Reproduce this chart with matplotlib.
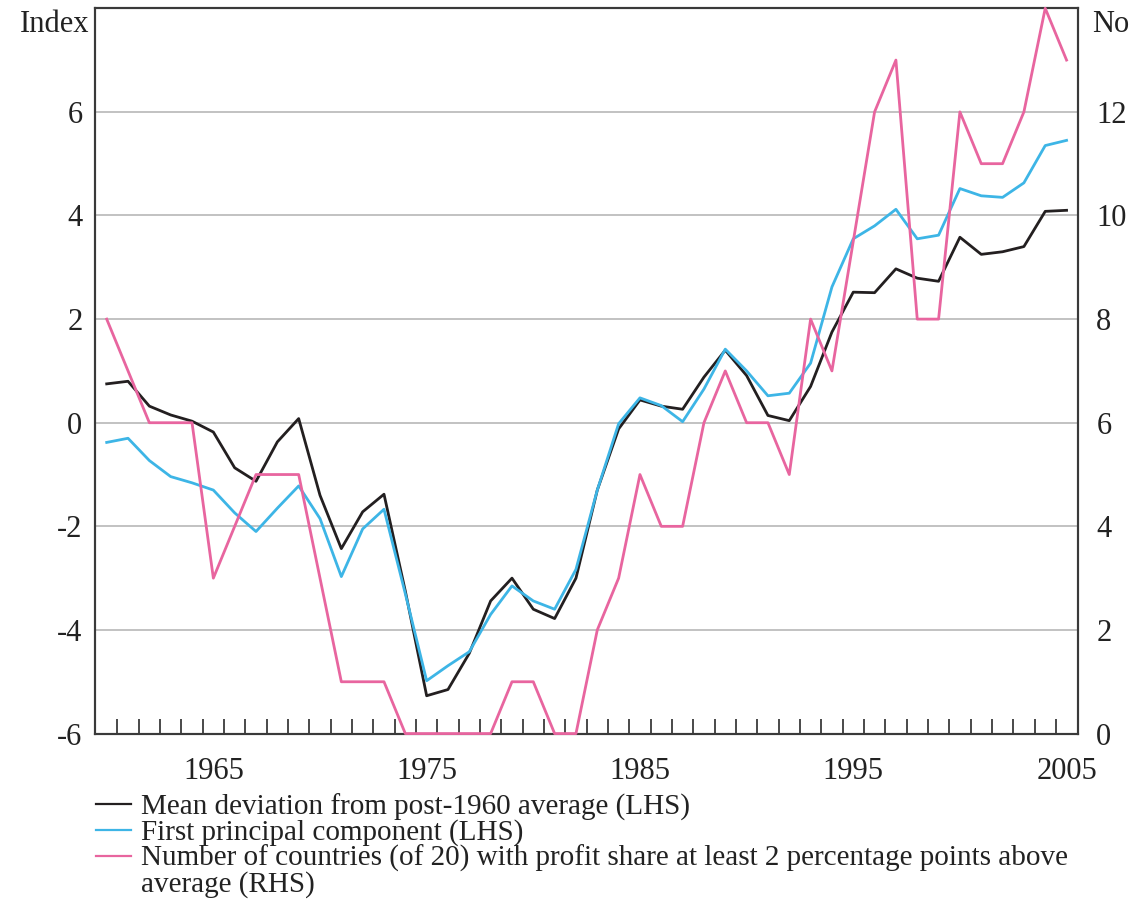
import matplotlib
matplotlib.use("Agg")
import matplotlib.pyplot as plt
from matplotlib.lines import Line2D
import numpy as np

# ─── Data ────────────────────────────────────────────────────────────────
years = list(range(1960, 2006))

mean_dev = [0.75, 0.80, 0.32, 0.15, 0.03, -0.18, -0.87, -1.13, -0.37, 0.08,
            -1.40, -2.43, -1.72, -1.38, -3.25, -5.27, -5.15, -4.45, -3.44, -3.00,
            -3.60, -3.78, -3.00, -1.30, -0.12, 0.44, 0.32, 0.26, 0.88, 1.40,
            0.91, 0.14, 0.04, 0.70, 1.75, 2.52, 2.51, 2.97, 2.79, 2.73,
            3.58, 3.25, 3.30, 3.40, 4.08, 4.10]

first_pc = [-0.38, -0.30, -0.73, -1.04, -1.16, -1.30, -1.74, -2.10, -1.65, -1.22,
            -1.85, -2.97, -2.05, -1.67, -3.30, -4.98, -4.69, -4.42, -3.70, -3.15,
            -3.44, -3.60, -2.83, -1.30, -0.02, 0.48, 0.33, 0.02, 0.65, 1.42,
            1.00, 0.52, 0.57, 1.15, 2.62, 3.55, 3.80, 4.12, 3.55, 3.62,
            4.52, 4.38, 4.35, 4.63, 5.35, 5.45]

n_countries = [8, 7, 6, 6, 6, 3, 4, 5, 5, 5,
               3, 1, 1, 1, 0, 0, 0, 0, 0, 1,
               1, 0, 0, 2, 3, 5, 4, 4, 6, 7,
               6, 6, 5, 8, 7, 9.5, 12, 13, 8, 8,
               12, 11, 11, 12, 14, 13]

left_ticks = [-6, -4, -2, 0, 2, 4, 6]
right_ticks = [0, 2, 4, 6, 8, 10, 12]
year_labels = [1965, 1975, 1985, 1995, 2005]

labels = [
    "Mean deviation from post-1960 average (LHS)",
    "First principal component (LHS)",
    "Number of countries (of 20) with profit share at least 2 percentage points above",
    "average (RHS)",  # wrapped continuation of the third entry
]

# ─── Style ───────────────────────────────────────────────────────────────
plt.rcParams["font.family"] = ["Liberation Serif", "DejaVu Serif"]
plt.rcParams["axes.unicode_minus"] = False

BLACK = "#231f20"
BLUE = "#3db5e6"
PINK = "#e8659f"
AXIS = "#3a3a3a"
GRID = "#bdbdbd"

fig = plt.figure(figsize=(11.36, 9.08), dpi=100)
ax = fig.add_axes([0.0836, 0.1921, 0.9492 - 0.0836, 0.9909 - 0.1921])
ax2 = ax.twinx()

# ── Lines ──
l1, = ax.plot(years, mean_dev, color=BLACK, linewidth=2.0, zorder=3)
l2, = ax.plot(years, first_pc, color=BLUE, linewidth=2.0, zorder=4)
l3, = ax2.plot(years, n_countries, color=PINK, linewidth=2.0, clip_on=False, zorder=5)

# ── Axes ──
ax.set_xlim(1959.45, 2005.55)
ax.set_ylim(-6, 8)
ax2.set_ylim(0, 14)

ax.set_yticks(left_ticks)
ax.set_yticklabels([str(v) for v in left_ticks])
ax2.set_yticks(right_ticks)
ax2.set_yticklabels([str(v) for v in right_ticks])

ax.set_xticks(year_labels)
ax.set_xticklabels([str(y) for y in year_labels])
ax.set_xticks(np.arange(1960.5, 2005, 1.0), minor=True)

ax.tick_params(axis="x", which="major", length=0, pad=17, labelsize=22, colors="#222")
ax.tick_params(axis="x", which="minor", direction="in", length=10.5, width=1.3, color=AXIS)
ax.tick_params(axis="y", length=0, pad=9, labelsize=22, colors="#222")
ax2.tick_params(axis="y", length=0, pad=13, labelsize=22, colors="#222")

ax.yaxis.grid(True, color=GRID, linewidth=1.3)
ax.set_axisbelow(True)

for a in (ax, ax2):
    for s in a.spines.values():
        s.set_color(AXIS)
        s.set_linewidth(1.5)

fig.text(0.0785, 0.973, "Index", ha="right", va="center", fontsize=22, color="#222")
fig.text(0.961, 0.973, "No", ha="left", va="center", fontsize=22, color="#222")

# ── Legend ──
blank = Line2D([], [], color="none")
leg = fig.legend(
    [l1, l2, l3, blank], labels,
    loc="upper left", bbox_to_anchor=(0.0845, 0.126),
    frameon=False, fontsize=21, handlelength=1.2, handletextpad=0.34,
    labelspacing=-0.05, borderpad=0, borderaxespad=0,
)
for t in leg.get_texts():
    t.set_color("#222")
for h in leg.legend_handles[:3]:
    h.set_linewidth(1.6)

fig.savefig("out.png", dpi=100)
plt.close(fig)
